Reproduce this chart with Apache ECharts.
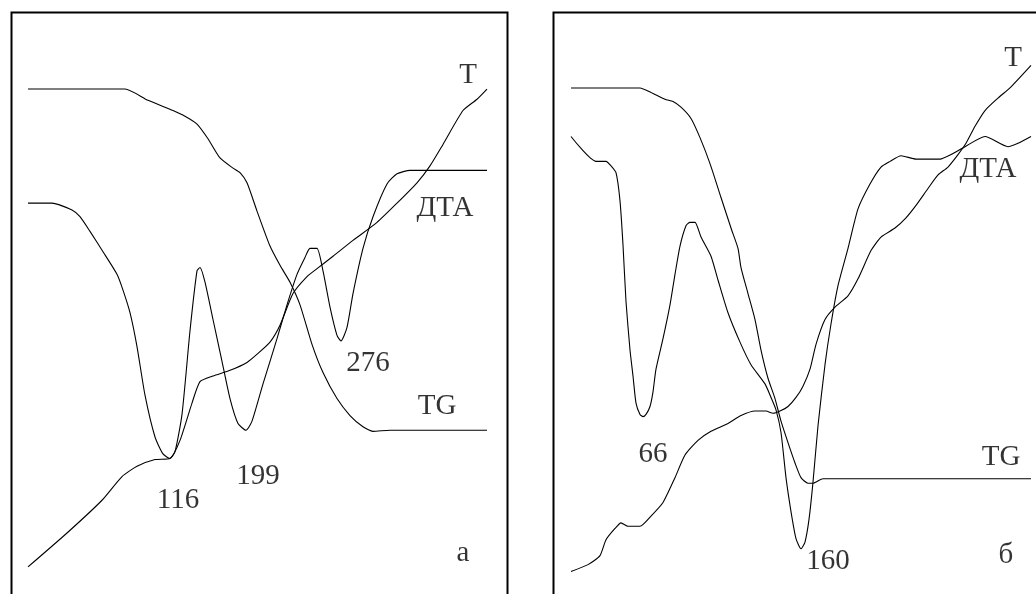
<!DOCTYPE html>
<html>
<head>
<meta charset="utf-8">
<script src="https://cdn.jsdelivr.net/npm/echarts@6/dist/echarts.min.js"></script>
<style>
  html, body { margin: 0; padding: 0; background: #fff; }
  #main { width: 1036px; height: 594px; }
</style>
</head>
<body>
<div id="main"></div>
<script>
// readings per panel: [x, y] in panel units (x from left frame, y down from top frame)
var tgA = [[19,69],[116,69],[139,79],[164,88],[176,93],[188,100],[199,113],[211,130],[224,139],[231,143],[238,152],[248,177],[261,208],[271,225],[281,240],[291,260],[303,295],[314,320],[328,343],[341,358],[354,368],[364,372],[381,371],[478,371]];
var dtaA = [[19,170],[43,170],[63,176],[71,182],[81,195],[94,213],[108,233],[114,247],[121,267],[128,297],[136,340],[146,377],[154,392],[161,396],[166,390],[173,357],[181,283],[188,230],[191,227],[196,240],[204,273],[213,310],[221,343],[229,365],[237,371],[243,363],[254,330],[268,290],[278,260],[288,233],[296,218],[301,210],[308,210],[314,230],[321,262],[328,287],[332,292],[338,280],[344,250],[354,210],[364,182],[378,153],[388,144],[401,141],[478,141]];
var tA = [[19,492],[58,462],[93,433],[113,412],[128,403],[146,397],[161,396],[171,380],[183,347],[191,328],[204,323],[221,318],[238,311],[249,303],[261,293],[271,278],[284,250],[298,235],[308,228],[324,217],[344,203],[368,187],[388,170],[408,152],[421,137],[434,118],[454,88],[468,78],[478,69]];

var tgB = [[20,68],[89,68],[100,72],[114,78],[122,80],[130,85],[140,95],[149,112],[159,135],[170,165],[180,192],[187,210],[190,227],[197,250],[204,273],[210,300],[217,325],[224,343],[230,363],[237,382],[244,400],[250,413],[257,418],[262,418],[272,414],[480,414]];
var dtaB = [[20,111],[45,133],[55,133],[60,137],[65,143],[69,168],[72,207],[75,257],[79,300],[82,323],[85,347],[89,357],[92,359],[95,357],[99,350],[102,337],[105,317],[112,290],[119,260],[124,233],[129,208],[135,190],[139,187],[144,187],[150,200],[160,217],[167,238],[177,267],[189,293],[200,313],[214,330],[220,342],[225,353],[230,373],[235,413],[240,443],[245,467],[250,476],[254,470],[258,450],[262,417],[267,367],[274,313],[280,277],[287,243],[297,210],[307,175],[319,153],[330,138],[339,133],[350,128],[365,131],[389,131],[400,127],[414,120],[434,111],[457,120],[467,117],[480,111]];
var tB = [[20,496],[37,490],[49,482],[55,468],[64,458],[70,453],[77,456],[89,456],[100,447],[112,435],[124,413],[134,393],[147,380],[160,372],[177,365],[190,358],[204,354],[215,354],[222,356],[229,354],[237,350],[245,342],[252,332],[259,317],[265,295],[274,273],[284,262],[297,252],[307,237],[320,212],[330,200],[344,192],[355,183],[365,172],[377,157],[387,145],[397,138],[407,127],[415,117],[424,102],[434,88],[447,77],[460,67],[480,48]];

// text marks: [x, y, text]
var labelsA = [[459,57,'T'],[436,175,'ДТА'],[359,312,'276'],[428,350,'TG'],[249,412,'199'],[169,433,'116'],[454,480,'а']];
var labelsB = [[462,42,'T'],[437,140,'ДТА'],[450,395,'TG'],[102,392,'66'],[277,487,'160'],[455,482,'б']];

var chart = echarts.init(document.getElementById('main'), null, { renderer: 'canvas' });

function curve(data, idx) {
  return {
    type: 'line', data: data, xAxisIndex: idx, yAxisIndex: idx,
    showSymbol: false, smooth: 0.2, silent: true,
    lineStyle: { color: '#000', width: 1.1 }
  };
}
function texts(list, idx) {
  return {
    type: 'scatter', xAxisIndex: idx, yAxisIndex: idx, symbolSize: 0, silent: true,
    data: list.map(function (d) { return { value: [d[0], d[1]], name: d[2] }; }),
    label: {
      show: true, position: 'inside', formatter: '{b}',
      color: '#000', fontFamily: 'Liberation Serif', fontSize: 29
    }
  };
}

// frames run past the bottom (and the right edge of panel b), as in the scan
function frame(x, w) {
  return {
    type: 'rect', left: x, top: 10, silent: true, z: -1,
    shape: { width: w, height: 620 },
    style: { fill: 'none', stroke: '#000', lineWidth: 2 }
  };
}

chart.setOption({
  backgroundColor: '#fff',
  animation: false,
  graphic: [frame(9, 496), frame(551, 520)],
  grid: [
    { left: 9, top: 10, width: 496, height: 584 },
    { left: 551, top: 10, width: 485, height: 584 }
  ],
  xAxis: [
    { gridIndex: 0, type: 'value', min: 0, max: 496, show: false },
    { gridIndex: 1, type: 'value', min: 0, max: 485, show: false }
  ],
  yAxis: [
    { gridIndex: 0, type: 'value', min: -1, max: 516, inverse: true, show: false },
    { gridIndex: 1, type: 'value', min: -1, max: 516, inverse: true, show: false }
  ],
  series: [
    curve(tgA, 0), curve(dtaA, 0), curve(tA, 0), texts(labelsA, 0),
    curve(tgB, 1), curve(dtaB, 1), curve(tB, 1), texts(labelsB, 1)
  ]
});
</script>
</body>
</html>
